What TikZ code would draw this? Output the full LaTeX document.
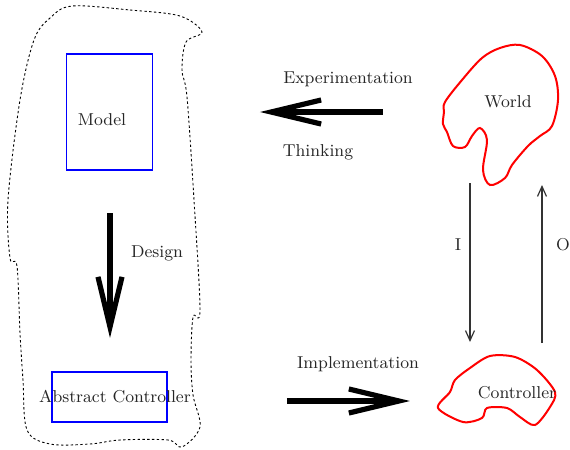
\documentclass[tikz,border=0pt]{standalone}
\usetikzlibrary{arrows.meta}
\begin{document}
\begin{tikzpicture}[x=0.5pt,y=-0.5pt,
  lbl/.style={font=\fontsize{8.6}{10}\selectfont, text=black!85, inner sep=0pt},
  bluebox/.style={draw=blue, line width=0.7pt},
  redblob/.style={draw=red, line width=1pt},
  bigarrow/.style={line width=2.6pt, -{Straight Barb[length=25pt,width=12pt,line width=2.6pt]}},
  thinarrow/.style={draw=black!80, line width=0.6pt, -{Straight Barb[length=5pt,width=4.5pt]}}]
\useasboundingbox (0,0) rectangle (570,450);

% dashed outline of the design domain
\draw[dashed, dash pattern=on 1.2pt off 1.2pt, line width=0.45pt]
  plot[smooth cycle, tension=0.55] coordinates {
   (72,6) (130,10) (180,16) (202,32) (186,42) (182,70) (187,97)
   (194,200) (200,310) (193,317) (191,360) (193,395) (200,427) (182,447)
   (168,440) (120,440) (90,444) (50,444) (27,430) (23,380) (20,333)
   (17,266) (10,258) (8,200) (20,100) (34,40) (50,18)};

% model and abstract controller
\node[bluebox, minimum width=43pt, minimum height=58pt] (model) at (109.5,112) {};
\node[lbl] (modeltxt) at (102,120) {Model};
\node[bluebox, minimum width=57.5pt, minimum height=25pt] (abs) at (109.5,397) {};
\node[lbl] (abstxt) at (115,397) {Abstract Controller};

% design step
\coordinate (d1) at (110,213);
\coordinate (d2) at (110,338);
\draw[bigarrow] (d1) -- (d2);
\node[lbl] (design) at (157,253) {Design};

% experimentation / thinking
\coordinate (e1) at (383,112);
\coordinate (e2) at (260,112);
\draw[bigarrow] (e1) -- (e2);
\node[lbl] (exp) at (348,79) {Experimentation};
\node[lbl] (think) at (318,152) {Thinking};

% implementation
\coordinate (i1) at (287,401);
\coordinate (i2) at (410,401);
\draw[bigarrow] (i1) -- (i2);
\node[lbl] (impl) at (358,364) {Implementation};

% world
\draw[redblob] plot[smooth cycle, tension=0.55] coordinates {
  (520,45) (542,56) (555,76) (558,100) (552,126) (540,136) (528,146) (512,165)
  (505,178) (490,185) (483,170) (487,140) (480,128) (472,136) (465,147)
  (453,146) (447,132) (443,124) (444,112) (445,102) (462,80) (482,58) (500,48)};
\node[lbl] (world) at (508,102) {World};

% controller
\draw[redblob] plot[smooth cycle, tension=0.5] coordinates {
  (490,356) (515,357) (537,370) (555,392) (550,407) (535,425)
  (520,417) (507,408) (487,408) (482,418) (463,422) (438,408)
  (450,392) (455,380) (470,368)};
\node[lbl] (ctrl) at (517,393) {Controller};

% input and output signals
\coordinate (in1) at (470,183);
\coordinate (in2) at (470,342);
\draw[thinarrow] (in1) -- (in2);
\node[lbl] (ilbl) at (458,245) {I};
\coordinate (o1) at (542,343);
\coordinate (o2) at (542,185);
\draw[thinarrow] (o1) -- (o2);
\node[lbl] (olbl) at (563,245) {O};
\end{tikzpicture}
\end{document}
